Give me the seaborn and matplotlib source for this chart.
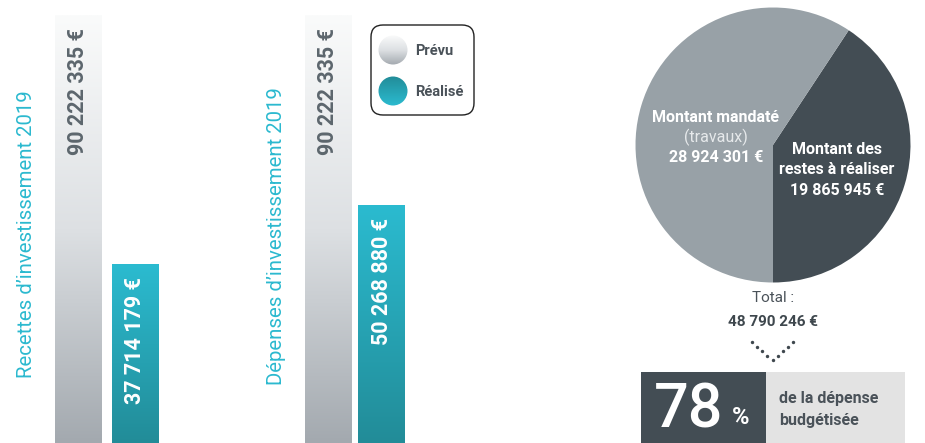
import numpy as np
import pandas as pd
import seaborn as sns
import matplotlib
matplotlib.use("Agg")
import matplotlib.pyplot as plt
from matplotlib.colors import LinearSegmentedColormap
from matplotlib.patches import FancyBboxPatch, Circle, Rectangle
from matplotlib.transforms import offset_copy

# ---- data ----
bar_categories = ["Prévu", "Réalisé"]
recettes_values = [90222335, 37714179]
depenses_values = [90222335, 50268880]
recettes_labels = ["90 222 335 €", "37 714 179 €"]
depenses_labels = ["90 222 335 €", "50 268 880 €"]
group_titles = ["Recettes d’investissement 2019", "Dépenses d’investissement 2019"]
pie_labels = ["Montant des restes à réaliser", "Montant mandaté"]
pie_values = [19865945, 28924301]
pie_value_labels = ["19 865 945 €", "28 924 301 €"]
total_label = "48 790 246 €"
percent_value = "78"

sns.set_theme(style="white")
plt.rcParams["font.family"] = ["Roboto", "DejaVu Sans"]

W, H = 925, 443
fig = plt.figure(figsize=(W / 100, H / 100), dpi=100)

TEAL = "#2bb9cf"
GREY_TXT = "#5c666d"
DARK = "#434d54"
LIGHT_PIE = "#98a1a7"

prevu_cmap = LinearSegmentedColormap.from_list("prevu", ["#fafbfb", "#dde0e3", "#a3a9af"])
real_cmap = LinearSegmentedColormap.from_list("real", ["#2bbbd0", "#228c98"])

ytop = 90222335 * H / 428.0


def gradient_patch(ax, patch, cmap):
    bb = patch.get_bbox()
    x0, x1 = bb.x0, bb.x1
    y0, y1 = bb.y0, bb.y1
    grad = np.linspace(0, 1, 256).reshape(-1, 1)
    im = ax.imshow(grad, cmap=cmap, aspect="auto", extent=(x0, x1, y0, y1),
                   origin="upper", zorder=patch.get_zorder() + 0.1)
    im.set_clip_path(patch)


layouts = [dict(unit=56.5, width=0.83, first=78.5),
           dict(unit=53.5, width=0.875, first=78.0)]

for gi, (vals, labs) in enumerate([(recettes_values, recettes_labels),
                                   (depenses_values, depenses_labels)]):
    lay = layouts[gi]
    left_px = 250 * gi
    ax = fig.add_axes([left_px / W, 0, 250 / W, 1])
    df = pd.DataFrame({"cat": bar_categories, "val": vals})
    sns.barplot(data=df, x="cat", y="val", hue="cat", palette=["#d0d4d7", TEAL],
                width=lay["width"], legend=False, ax=ax, linewidth=0)
    x_left = -lay["first"] / lay["unit"]
    ax.set_xlim(x_left, x_left + 250 / lay["unit"])
    ax.set_ylim(0, ytop)
    ax.axis("off")
    for p, cm in zip(ax.patches, [prevu_cmap, real_cmap]):
        gradient_patch(ax, p, cm)
    for i, (v, lab) in enumerate(zip(vals, labs)):
        tr = offset_copy(ax.transData, fig=fig, y=-13, units="dots")
        ax.text(i, v, lab, transform=tr, rotation=90, ha="center", va="top",
                fontsize=15.5, fontweight="bold",
                color=GREY_TXT if i == 0 else "white", zorder=5)

# overlay axes in pixel coordinates
ov = fig.add_axes([0, 0, 1, 1], zorder=10)
ov.set_xlim(0, W)
ov.set_ylim(H, 0)
ov.axis("off")

ov.text(27, 234, group_titles[0], rotation=90, ha="center", va="center",
        fontsize=14.7, color=TEAL)
ov.text(277, 236, group_titles[1], rotation=90, ha="center", va="center",
        fontsize=14.7, color=TEAL)

# legend box
box = FancyBboxPatch((371, 25), 103, 90, boxstyle="round,pad=0,rounding_size=12",
                     fc="white", ec="#222222", lw=1.0)
ov.add_patch(box)
for cy, cm, lab in [(50, prevu_cmap, "Prévu"),
                    (91, LinearSegmentedColormap.from_list("rl", ["#228c98", "#2bbbd0"]), "Réalisé")]:
    c = Circle((393, cy), 14.5, fc="none", ec="none")
    ov.add_patch(c)
    grad = np.linspace(0, 1, 256).reshape(-1, 1)
    if lab == "Prévu":
        grad = 0.15 + 0.85 * grad
    im = ov.imshow(grad, cmap=cm, aspect="auto", extent=(378, 408, cy + 15, cy - 15),
                   origin="upper", zorder=11)
    im.set_clip_path(c)
    ov.text(415, cy + 1, lab, ha="left", va="center", fontsize=10.5,
            fontweight="bold", color="#4a5259")

# pie
cx, cy, r = 773, 145, 137.5
axp = fig.add_axes([(cx - r) / W, (H - cy - r) / H, 2 * r / W, 2 * r / H])
axp.pie(pie_values, colors=[DARK, LIGHT_PIE], startangle=270, counterclock=True,
        radius=1, wedgeprops=dict(linewidth=0))
axp.set_xlim(-1, 1)
axp.set_ylim(-1, 1)
axp.set_aspect("auto")
axp.axis("off")

FS = 11.5
ov.text(716, 117, "Montant mandaté", ha="center", va="center", fontsize=FS,
        fontweight="bold", color="white")
ov.text(716, 137, "(travaux)", ha="center", va="center", fontsize=FS,
        color="#e6e9eb")
ov.text(716, 157, pie_value_labels[1], ha="center", va="center", fontsize=FS,
        fontweight="bold", color="white")
ov.text(837, 150, "Montant des", ha="center", va="center", fontsize=FS,
        fontweight="bold", color="white")
ov.text(837, 170, "restes à réaliser", ha="center", va="center", fontsize=FS,
        fontweight="bold", color="white")
ov.text(837, 190, pie_value_labels[0], ha="center", va="center", fontsize=FS,
        fontweight="bold", color="white")

ov.text(773, 298, "Total :", ha="center", va="center", fontsize=11, color="#4a5259")
ov.text(773, 322, total_label, ha="center", va="center", fontsize=11,
        fontweight="bold", color="#3e474d")

# dotted chevron
ov.scatter([752, 757, 762, 767, 772.5, 778, 783, 788, 793],
           [342, 346.5, 351, 355.5, 360, 355.5, 351, 346.5, 342],
           s=6, color="#3e474d", zorder=12, linewidths=0)

# bottom box
ov.add_patch(Rectangle((641, 372), 125, 71, fc=DARK, ec="none"))
ov.add_patch(Rectangle((766, 372), 139, 71, fc="#e3e3e3", ec="none"))
ov.text(689, 410, percent_value, ha="center", va="center", fontsize=44,
        color="white", fontweight="medium")
ov.text(741, 418, "%", ha="center", va="center", fontsize=17, color="white",
        fontweight="bold")
ov.text(779, 398, "de la dépense", ha="left", va="center", fontsize=11.5,
        fontweight="bold", color="#4a5259")
ov.text(779, 420, "budgétisée", ha="left", va="center", fontsize=11.5,
        fontweight="bold", color="#4a5259")

fig.savefig("out.png", dpi=100)
